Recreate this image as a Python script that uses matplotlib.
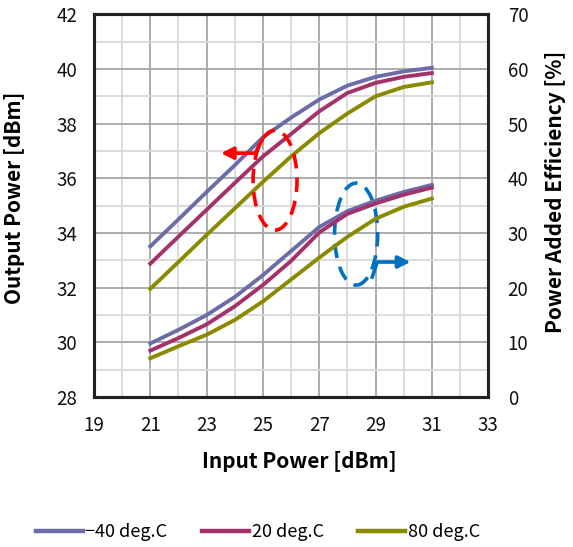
import matplotlib
matplotlib.use('Agg')
import matplotlib.pyplot as plt
from matplotlib.patches import Ellipse

# input power sweep [dBm]
pin = [21, 22, 23, 24, 25, 26, 27, 28, 29, 30, 31]

# output power [dBm]
pout_m40 = [33.51, 34.50, 35.50, 36.48, 37.50, 38.22, 38.88, 39.39, 39.71, 39.91, 40.04]
pout_20 = [32.88, 33.87, 34.85, 35.83, 36.80, 37.62, 38.45, 39.12, 39.49, 39.71, 39.85]
pout_80 = [31.96, 32.94, 33.93, 34.90, 35.87, 36.80, 37.65, 38.37, 39.00, 39.34, 39.51]

# power added efficiency [%]
pae_m40 = [9.8, 12.3, 15.0, 18.3, 22.3, 26.7, 31.1, 34.0, 35.9, 37.5, 38.8]
pae_20 = [8.5, 10.8, 13.3, 16.6, 20.5, 24.9, 30.1, 33.5, 35.4, 37.0, 38.3]
pae_80 = [7.1, 9.3, 11.4, 14.1, 17.5, 21.5, 25.5, 29.3, 32.6, 34.8, 36.3]

labels = ['\u221240 deg.C', '20 deg.C', '80 deg.C']
colors = ['#6C6CA8', '#A3326B', '#8A8A00']

plt.rcParams['font.family'] = ['Noto Sans CJK JP', 'DejaVu Sans']

fig = plt.figure(figsize=(5.73, 5.47), dpi=100)
ax = fig.add_axes([0.164, 0.274, 0.688, 0.700])
ax2 = ax.twinx()

ax.set_xlim(19, 33)
ax.set_ylim(28, 42)
ax2.set_ylim(0, 70)
ax.set_xticks(range(19, 34, 2))
ax.set_xticks(range(20, 33, 2), minor=True)
ax.set_yticks(range(28, 43, 2))
ax.set_yticks(range(29, 42, 2), minor=True)
ax2.set_yticks(range(0, 71, 10))

ax.grid(which='major', color='#A6A6A6', lw=1.3)
ax.grid(which='minor', color='#D9D9D9', lw=1.3)
ax.set_axisbelow(True)

handles = []
for pout, pae, c, lab in zip([pout_m40, pout_20, pout_80], [pae_m40, pae_20, pae_80], colors, labels):
    h, = ax.plot(pin, pout, color=c, lw=2.8, label=lab, zorder=3, solid_joinstyle='round')
    ax2.plot(pin, pae, color=c, lw=2.8, zorder=3, solid_joinstyle='round')
    handles.append(h)

for a in (ax, ax2):
    for s in a.spines.values():
        s.set_linewidth(2.2)
        s.set_color('#222222')
    a.tick_params(which='both', length=0, labelsize=13.5, labelcolor='#111111')
ax.tick_params(axis='x', pad=13)
ax.tick_params(axis='y', pad=12)
ax2.tick_params(axis='y', pad=14)

ax.set_xlabel('Input Power [dBm]', fontsize=15, fontweight='bold')
ax.set_ylabel('Output Power [dBm]', fontsize=15, fontweight='bold')
ax2.set_ylabel('Power Added Efficiency [%]', fontsize=15, fontweight='bold')
ax.xaxis.set_label_coords(0.52, -0.14)
ax.yaxis.set_label_coords(-0.175, 0.52)
ax2.yaxis.set_label_coords(1.145, 0.535)

# red marker: output power -> left axis
ax.add_patch(Ellipse((25.43, 35.93), 1.56, 3.65, fill=False, ec='#FF0000', lw=2.6,
                     ls=(0, (4, 2.5)), zorder=4))
ax.plot([24.97, 24.72, 23.85], [37.39, 36.92, 36.92], color='#FF0000', lw=2.6, zorder=4)
ax.annotate('', xy=(23.41, 36.92), xytext=(23.9, 36.92),
            arrowprops=dict(arrowstyle='-|>', color='#FF0000', lw=2.6, mutation_scale=18), zorder=4)

# blue marker: efficiency -> right axis
ax.add_patch(Ellipse((28.31, 33.96), 1.53, 3.73, fill=False, ec='#0070C0', lw=2.6,
                     ls=(0, (4, 2.5)), zorder=4))
ax.plot([28.88, 29.06, 29.9], [32.39, 32.94, 32.94], color='#0070C0', lw=2.6, zorder=4)
ax.annotate('', xy=(30.34, 32.94), xytext=(29.85, 32.94),
            arrowprops=dict(arrowstyle='-|>', color='#0070C0', lw=2.6, mutation_scale=18), zorder=4)

leg = fig.legend(handles=handles, labels=labels, loc='center', ncol=3, frameon=False,
                 bbox_to_anchor=(0.45, 0.027), fontsize=13, handlelength=2.6, columnspacing=1.9,
                 handletextpad=0.15)
for ln in leg.get_lines():
    ln.set_linewidth(3.2)

fig.savefig('out.png', dpi=100)
